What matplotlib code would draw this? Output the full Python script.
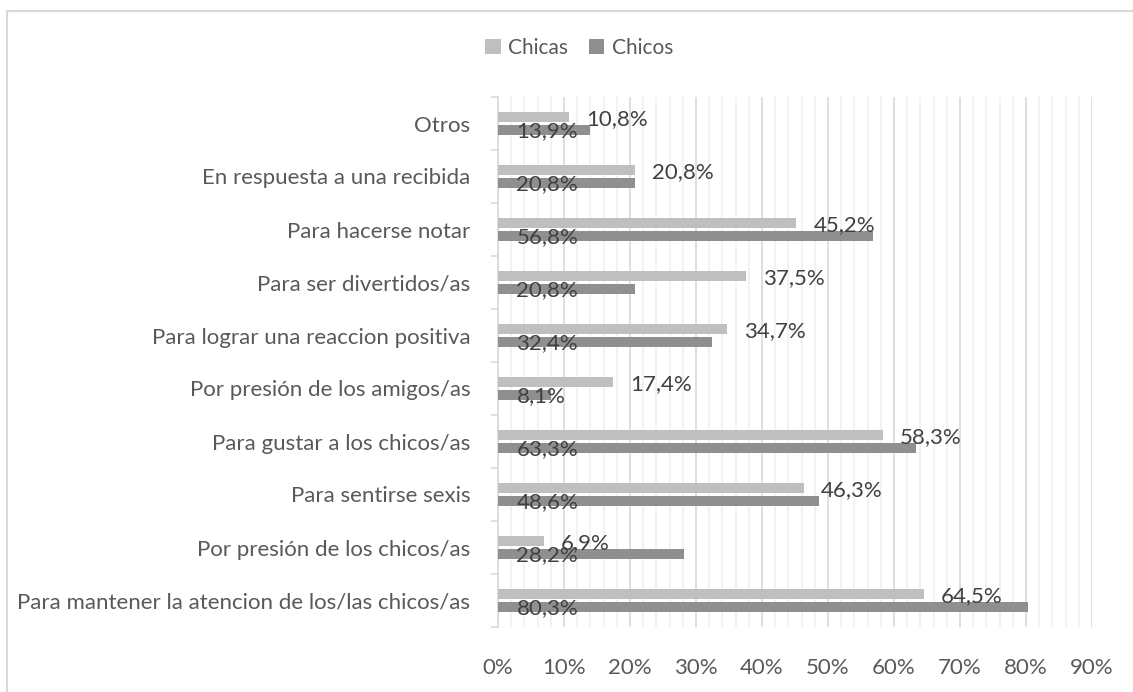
import matplotlib
matplotlib.use("Agg")
import matplotlib.pyplot as plt
from matplotlib.ticker import MultipleLocator, FuncFormatter
from matplotlib.patches import Rectangle
import numpy as np

categories = [
    "Para mantener la atencion de los/las chicos/as",
    "Por presión de los chicos/as",
    "Para sentirse sexis",
    "Para gustar a los chicos/as",
    "Por presión de los amigos/as",
    "Para lograr una reaccion positiva",
    "Para ser divertidos/as",
    "Para hacerse notar",
    "En respuesta a una recibida",
    "Otros",
]
chicas = [64.5, 6.9, 46.3, 58.3, 17.4, 34.7, 37.5, 45.2, 20.8, 10.8]
chicos = [80.3, 28.2, 48.6, 63.3, 8.1, 32.4, 20.8, 56.8, 20.8, 13.9]
series_names = ["Chicas", "Chicos"]
xticks = [0, 10, 20, 30, 40, 50, 60, 70, 80, 90]

c_chicas = "#BFBFBF"
c_chicos = "#8F8F8F"
txt = "#595959"
font = "Lato"

fig = plt.figure(figsize=(11.33, 6.92), dpi=100)
ax = fig.add_axes([498/1133, (692-627)/692, (1092-498)/1133, (627-97)/692])

fig.patches.append(Rectangle((7/1133, -0.1), 1.2, 1 - 11/692 + 0.1, transform=fig.transFigure,
                             fill=False, edgecolor="#D9D9D9", linewidth=1.5, zorder=0))

y = np.arange(len(categories))
h = 0.195
off = 0.128
ax.barh(y + off, chicas, height=h, color=c_chicas, label=series_names[0], zorder=3)
ax.barh(y - off, chicos, height=h, color=c_chicos, label=series_names[1], zorder=3)

fmt = lambda v: f"{v:.1f}".replace(".", ",") + "%"
for i in range(len(categories)):
    ax.text(chicas[i] + 2.6, y[i] + off - 0.05, fmt(chicas[i]), ha="left", va="center",
            fontsize=16, color="#404040", family=font, zorder=5)
    ax.text(2.8, y[i] - off - 0.02, fmt(chicos[i]), ha="left", va="center",
            fontsize=16, color="#404040", family=font, zorder=5)

ax.set_xlim(0, 90)
ax.set_ylim(-0.5, len(categories) - 0.5)
ax.xaxis.set_minor_locator(MultipleLocator(2))
ax.set_xticks(xticks)
ax.xaxis.set_major_formatter(FuncFormatter(lambda v, p: f"{int(round(v))}%"))
ax.grid(axis="x", which="major", color="#D9D9D9", linewidth=1.2, zorder=0)
ax.grid(axis="x", which="minor", color="#F0F0F0", linewidth=1.2, zorder=0)
ax.set_axisbelow(True)

ax.set_yticks(y)
ax.set_yticklabels(categories)
ax.set_yticks(np.arange(-0.5, len(categories), 1), minor=True)
ax.tick_params(axis="y", which="major", length=0, pad=20, labelsize=16, labelcolor=txt)
ax.tick_params(axis="y", which="minor", length=5, color="#D9D9D9", width=1.2)
ax.tick_params(axis="x", which="both", length=0, pad=22, labelsize=16, labelcolor=txt)
for lab in ax.get_xticklabels() + ax.get_yticklabels():
    lab.set_family(font)

for s in ["top", "right", "bottom"]:
    ax.spines[s].set_visible(False)
ax.spines["left"].set_color("#D9D9D9")
ax.spines["left"].set_linewidth(1.2)

leg = fig.legend(loc="center", bbox_to_anchor=(579/1133, 1 - 48/692), ncol=2, frameon=False,
                 handlelength=0.75, handleheight=0.75, handletextpad=0.35, columnspacing=1.0,
                 prop={"family": font, "size": 15})
for t in leg.get_texts():
    t.set_color(txt)

fig.savefig("out.png", dpi=100)
